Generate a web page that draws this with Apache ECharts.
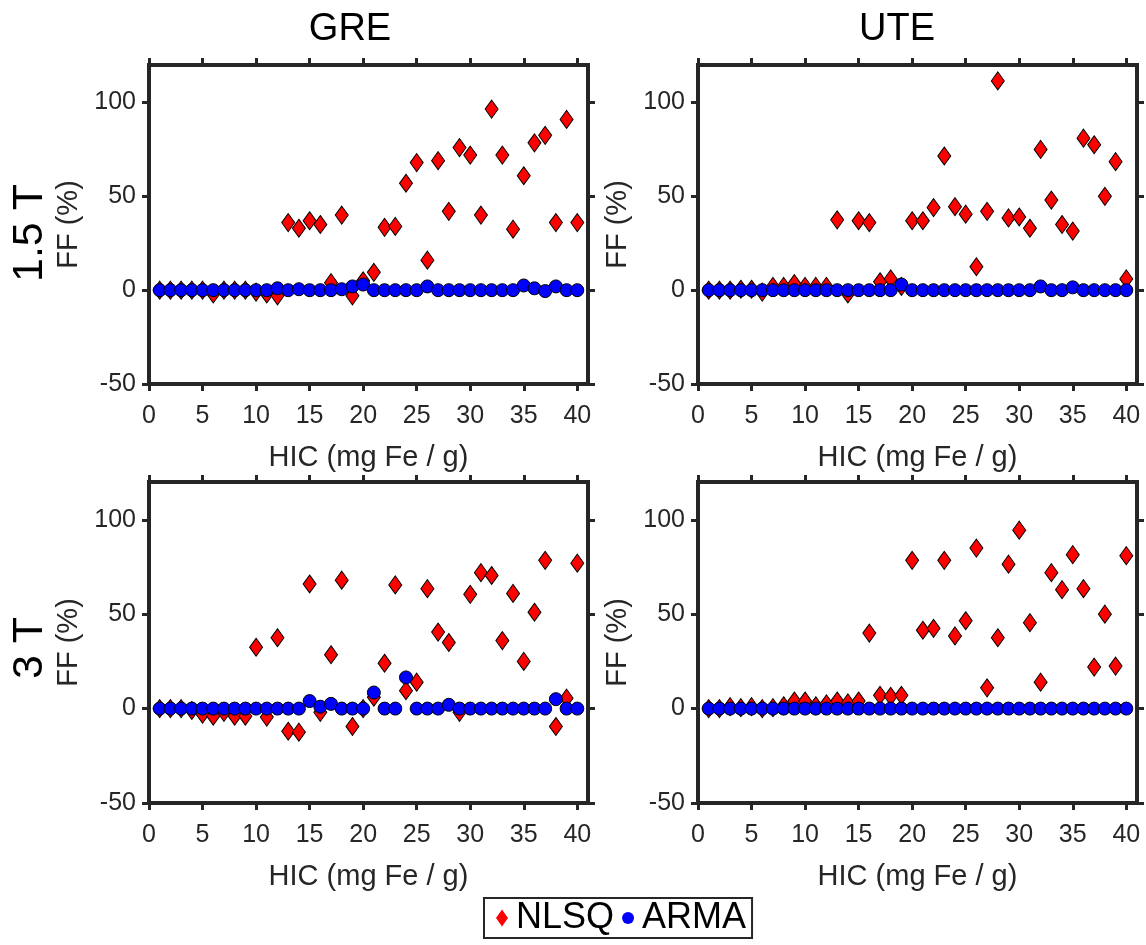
<!DOCTYPE html>
<html>
<head>
<meta charset="utf-8">
<script src="https://cdn.jsdelivr.net/npm/echarts@6/dist/echarts.min.js"></script>
<style>
html,body{margin:0;padding:0;background:#fff;}
#chart{width:1146px;height:945px;}
</style>
</head>
<body>
<div id="chart"></div>
<script>
// ---------- data ----------
const hic = [1,2,3,4,5,6,7,8,9,10,11,12,13,14,15,16,17,18,19,20,21,22,23,24,25,26,27,28,29,30,31,32,33,34,35,36,37,38,39,40];

const nlsqGre15 = [0,0,0,0,0,-2,0,0,0,-1,-2,-3,36,33,37,35,4,40,-3,5,9.5,33.5,34,57,68,16,69,42,76,72,40,96.5,72,32.5,61,78.5,82.5,36,91,36];
const armaGre15 = [0,0,0,0,0,0,0,0,0,0,0,1,0,0.5,0,0,0,0.5,2,3,0,0,0,0,0,2,0,0,0,0,0,0,0,0,2.5,1,-0.5,2,0,0];

const nlsqUte15 = [0,0,0,0.5,0.5,-1,2,2,3.5,2,2,2,37.5,-2,37,36,4.5,6,2,37,37,44,71.5,44.5,40.5,12.5,42,111.5,38.5,39,33,75,48,35,31.5,81,77.5,50,68.5,6];
const armaUte15 = [0,0,0,0,0,0,0,0,0,0,0,0,0,0,0,0,0,0,3,0,0,0,0,0,0,0,0,0,0,0,0,2,0,0,1.5,0,0,0,0,0];

const nlsqGre3 = [0,0,0,-1,-3,-4,-2,-4,-4,32.5,-4.5,37.5,-12,-12.5,66,-2,28.5,68,-9.5,0,6,24,65.5,9.5,14,63.5,40.5,35,-2,60.5,72,70.5,36,61,25,51,78.5,-9.5,5.5,77];
const armaGre3 = [0,0,0,0,0,0,0,0,0,0,0,0,0,0,4,1,2.5,0,0,0,8.5,0,0,16.5,0,0,0,2,0,0,0,0,0,0,0,0,0,5,0,0];

const nlsqUte3 = [0,0,1,0.5,1,0,0.5,1.5,4,4,1.5,2.5,4,3,4,40,7,6.5,7,78.5,41.5,42.5,78.5,38.5,46.5,85,11,37.5,76.5,94.5,45.5,14,72,63,81.5,63.5,22,50,22.5,81];
const armaUte3 = [0,0,0,0,0,0,0,0,0,0,0,0,0,0,0,0,0,0,0,0,0,0,0,0,0,0,0,0,0,0,0,0,0,0,0,0,0,0,0,0];

const xTicks = [0,5,10,15,20,25,30,35,40];
const yTicks = [-50,0,50,100];
const colTitles = ['GRE','UTE'];
const rowTitles = ['1.5 T','3 T'];
const seriesNames = ['NLSQ','ARMA'];
const xName = 'HIC (mg Fe / g)';
const yName = 'FF (%)';

// ---------- layout ----------
const FONT = 'Liberation Sans, Arial, Helvetica, sans-serif';
const AX = '#262626';
const panels = [
  {left:149, top:65,  width:439, height:319, nlsq:nlsqGre15, arma:armaGre15},
  {left:698, top:65,  width:439, height:319, nlsq:nlsqUte15, arma:armaUte15},
  {left:149, top:482, width:439, height:321, nlsq:nlsqGre3,  arma:armaGre3},
  {left:698, top:482, width:439, height:321, nlsq:nlsqUte3,  arma:armaUte3}
];

const grid = [], xAxis = [], yAxis = [], series = [];
panels.forEach((p, i) => {
  grid.push({left:p.left, top:p.top, width:p.width, height:p.height, show:true,
    borderColor:AX, borderWidth:4, backgroundColor:'#fff', containLabel:false});
  const tickStyle = {show:true, inside:false, length:7, lineStyle:{color:AX, width:3}};
  // bottom x
  xAxis.push({type:'value', gridIndex:i, position:'bottom', min:0, max:41, interval:5,
    axisLine:{show:false, onZero:false},
    axisTick:Object.assign({}, tickStyle, {customValues:xTicks}),
    axisLabel:{customValues:xTicks, margin:20, fontSize:25, color:AX, fontFamily:FONT},
    splitLine:{show:false},
    name:xName, nameLocation:'middle', nameGap:59,
    nameTextStyle:{fontSize:29, color:AX, fontFamily:FONT}});
  // top x (ticks only)
  xAxis.push({type:'value', gridIndex:i, position:'top', min:0, max:41, interval:5,
    axisLine:{show:false, onZero:false},
    axisTick:Object.assign({}, tickStyle, {customValues:xTicks}),
    axisLabel:{show:false}, splitLine:{show:false}});
  // left y
  yAxis.push({type:'value', gridIndex:i, position:'left', min:-50, max:120, interval:50,
    axisLine:{show:false, onZero:false},
    axisTick:Object.assign({}, tickStyle, {customValues:yTicks}),
    axisLabel:{customValues:yTicks, margin:13, fontSize:25, color:AX, fontFamily:FONT},
    splitLine:{show:false},
    name:yName, nameLocation:'middle', nameGap:66,
    nameTextStyle:{fontSize:29, color:AX, fontFamily:FONT}});
  // right y (ticks only)
  yAxis.push({type:'value', gridIndex:i, position:'right', min:-50, max:120, interval:50,
    axisLine:{show:false, onZero:false},
    axisTick:Object.assign({}, tickStyle, {customValues:yTicks}),
    axisLabel:{show:false}, splitLine:{show:false}});

  series.push({type:'scatter', name:seriesNames[0], xAxisIndex:2*i, yAxisIndex:2*i,
    symbol:'diamond', symbolSize:[13,18],
    itemStyle:{color:'#ff0000', borderColor:'#000', borderWidth:1, opacity:1},
    data:hic.map((x, k) => [x, p.nlsq[k]])});
  series.push({type:'scatter', name:seriesNames[1], xAxisIndex:2*i, yAxisIndex:2*i,
    symbol:'circle', symbolSize:13,
    itemStyle:{color:'#0000ff', borderColor:'#000', borderWidth:1, opacity:1},
    data:hic.map((x, k) => [x, p.arma[k]])});
});

const graphic = [
  {type:'text', x:350, y:30, style:{text:colTitles[0], font:'38px ' + FONT, fill:'#000', textAlign:'center', textVerticalAlign:'middle'}},
  {type:'text', x:897, y:30, style:{text:colTitles[1], font:'38px ' + FONT, fill:'#000', textAlign:'center', textVerticalAlign:'middle'}},
  {type:'text', x:30, y:233, rotation:Math.PI/2, style:{text:rowTitles[0], font:'43px ' + FONT, fill:'#000', textAlign:'center', textVerticalAlign:'middle'}},
  {type:'text', x:30, y:648, rotation:Math.PI/2, style:{text:rowTitles[1], font:'43px ' + FONT, fill:'#000', textAlign:'center', textVerticalAlign:'middle'}}
];

const chart = echarts.init(document.getElementById('chart'), null, {renderer:'canvas'});
chart.setOption({
  animation:false,
  backgroundColor:'#fff',
  textStyle:{fontFamily:FONT},
  grid, xAxis, yAxis, series, graphic,
  legend:{
    left:484, top:898, orient:'horizontal', selectedMode:false,
    borderColor:AX, borderWidth:2, backgroundColor:'#fff',
    padding:[2,6,2,12], itemGap:8, itemWidth:12, itemHeight:17,
    itemStyle:{borderWidth:0},
    textStyle:{fontSize:36, color:'#000', fontFamily:FONT, padding:[0,0,0,3]},
    data:[{name:'NLSQ', icon:'diamond'}, {name:'ARMA', icon:'circle'}]
  }
});
</script>
</body>
</html>
